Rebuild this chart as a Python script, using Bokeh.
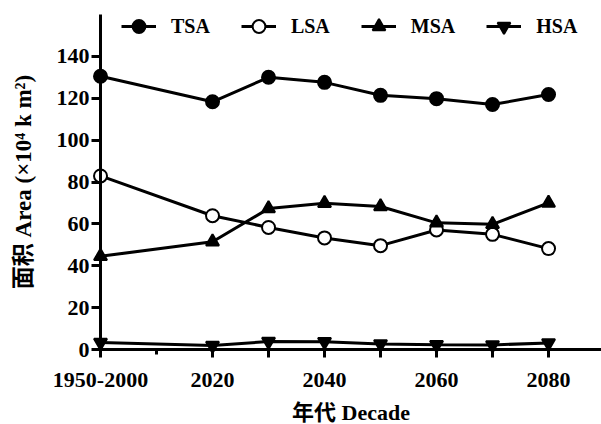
from bokeh.plotting import figure
from bokeh.models import Range1d, FixedTicker, Legend, LegendItem
from bokeh.embed import file_html
from bokeh.resources import INLINE

# ---- data ----
decades = [2000, 2020, 2030, 2040, 2050, 2060, 2070, 2080]
decade_labels = ["1950-2000", "2020", "", "2040", "", "2060", "", "2080"]
minor_decades = [2010]
tsa = [130.5, 118.3, 130.0, 127.6, 121.4, 119.8, 117.0, 121.8]
lsa = [82.9, 63.9, 58.3, 53.3, 49.6, 57.1, 55.0, 48.2]
msa = [44.5, 51.5, 67.3, 69.8, 68.3, 60.5, 59.8, 70.0]
hsa = [3.4, 1.9, 3.8, 3.7, 2.6, 2.3, 2.2, 3.1]
series_names = ["TSA", "LSA", "MSA", "HSA"]
y_ticks = [0, 20, 40, 60, 80, 100, 120, 140]

FONT = "'Liberation Serif', 'Noto Sans CJK SC'"

p = figure(width=601, height=424, output_backend="svg", toolbar_location=None,
           x_range=Range1d(1982.14, 2089.46), y_range=Range1d(-35.82, 166.69),
           min_border=0, outline_line_color=None,
           background_fill_color="white", border_fill_color="white")
p.grid.visible = False

# x axis
xa = p.xaxis[0]
xa.ticker = FixedTicker(ticks=decades, minor_ticks=minor_decades)
xa.major_label_overrides = dict(zip(decades, decade_labels))
xa.fixed_location = 0
xa.bounds = (2000, 2089.46)
xa.axis_line_width = 3
xa.major_tick_line_width = 3
xa.minor_tick_line_width = 3
xa.major_tick_in = 5
xa.major_tick_out = 8
xa.minor_tick_in = 0
xa.minor_tick_out = 5
xa.major_label_text_font = FONT
xa.major_label_text_font_size = "22px"
xa.major_label_text_font_style = "bold"
xa.major_label_text_color = "black"
xa.major_label_standoff = 15
xa.axis_label = "年代 Decade"
xa.axis_label_text_font = FONT
xa.axis_label_text_font_size = "22px"
xa.axis_label_text_font_style = "bold"
xa.axis_label_text_color = "black"
xa.axis_label_standoff = 10

# y axis
ya = p.yaxis[0]
ya.ticker = FixedTicker(ticks=y_ticks)
ya.fixed_location = 2000
ya.bounds = (0, 160)
ya.axis_line_width = 3
ya.major_tick_line_width = 3
ya.major_tick_in = 0
ya.major_tick_out = 9
ya.minor_tick_out = 0
ya.minor_tick_in = 0
ya.major_label_text_font = FONT
ya.major_label_text_font_size = "22px"
ya.major_label_text_font_style = "bold"
ya.major_label_text_color = "black"
ya.major_label_standoff = 2
ya.axis_label = "面积 Area (×10⁴ k m²)"
ya.axis_label_text_font = FONT
ya.axis_label_text_font_size = "23px"
ya.axis_label_text_font_style = "bold"
ya.axis_label_text_color = "black"
ya.axis_label_standoff = 18

series = [tsa, lsa, msa, hsa]
markers = ["circle", "circle", "triangle", "inverted_triangle"]
fills = ["black", "white", "black", "black"]

lines = [p.line(decades, vals, line_width=3, line_color="black") for vals in series]
items = []
for name, vals, mk, fc, ln in zip(series_names, series, markers, fills, lines):
    pts = p.scatter(decades, vals, marker=mk, size=13, line_color="black",
                    fill_color=fc, line_width=2)
    items.append(LegendItem(label=name, renderers=[ln, pts]))

legend = Legend(items=items, orientation="horizontal", location=(121, 382),
                glyph_width=35, glyph_height=32, label_standoff=15, spacing=31,
                padding=0, margin=0, border_line_color=None,
                background_fill_alpha=0,
                label_text_font=FONT, label_text_font_size="20px",
                label_text_font_style="bold", label_text_color="black")
p.add_layout(legend)

open("out.html", "w").write(file_html(p, INLINE))
